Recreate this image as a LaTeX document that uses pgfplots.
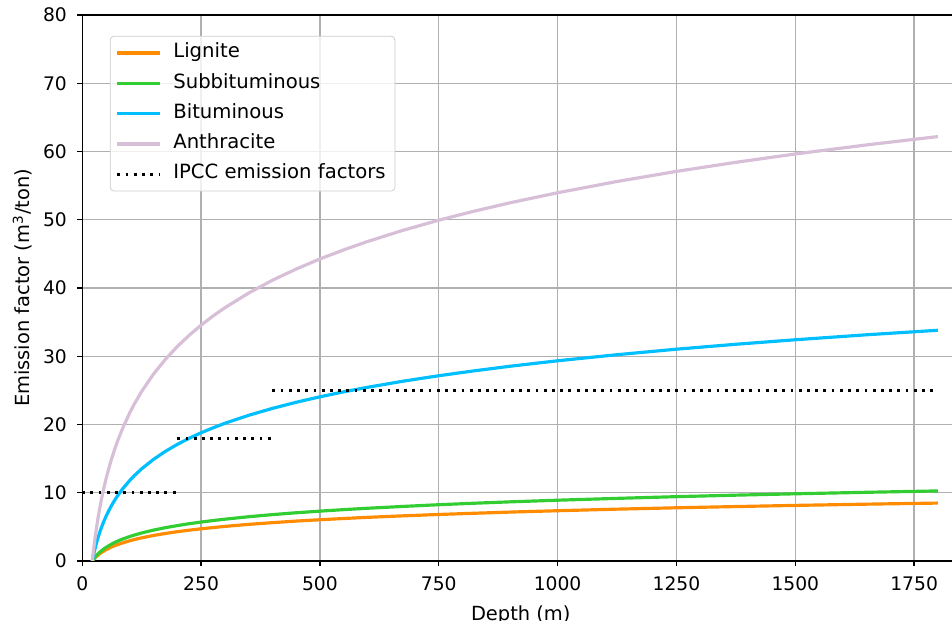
\documentclass[border=0pt]{standalone}
\usepackage{fontspec}
\setmainfont{DejaVu Sans}
\usepackage{pgfplots}
\pgfplotsset{compat=1.18}
\usepackage{pgfplotstable}

\definecolor{lignite}{HTML}{FF8C00}
\definecolor{subbit}{HTML}{32CD32}
\definecolor{bitum}{HTML}{00BFFF}
\definecolor{anthra}{HTML}{D8BFD8}
\definecolor{gridgray}{HTML}{B0B0B0}
\definecolor{legendedge}{HTML}{CCCCCC}

% Methane emission factor (m^3/ton) against mining depth (m), per coal rank
\pgfplotstableread{
x     lig   sub    bit    ant
21    0.00  0.00   0.00   0.00
22    0.07  0.09   0.28   0.52
23    0.16  0.19   0.62   1.14
25    0.31  0.38   1.25   2.31
27    0.46  0.56   1.84   3.39
30    0.66  0.80   2.64   4.86
32    0.79  0.95   3.13   5.76
35    0.96  1.16   3.82   7.02
40    1.21  1.47   4.83   8.89
45    1.44  1.74   5.73  10.54
50    1.64  1.98   6.53  12.01
55    1.82  2.20   7.25  13.35
60    1.99  2.40   7.92  14.56
67    2.20  2.66   8.76  16.11
75    2.41  2.92   9.62  17.69
85    2.65  3.21  10.57  19.44
100   2.96  3.58  11.80  21.72
110   3.14  3.80  12.53  23.05
125   3.39  4.10  13.50  24.84
150   3.74  4.52  14.89  27.39
175   4.03  4.88  16.06  29.55
200   4.29  5.18  17.08  31.42
225   4.51  5.46  17.98  33.07
250   4.71  5.70  18.78  34.55
275   4.89  5.92  19.50  35.88
300   5.06  6.12  20.17  37.10
350   5.36  6.48  21.34  39.25
400   5.61  6.79  22.35  41.13
450   5.84  7.06  23.25  42.77
500   6.04  7.30  24.05  44.25
550   6.22  7.52  24.78  45.58
600   6.39  7.72  25.44  46.80
675   6.61  7.99  26.34  48.45
750   6.81  8.24  27.14  49.93
825   6.99  8.46  27.86  51.26
900   7.16  8.66  28.53  52.48
1000  7.36  8.90  29.33  53.95
1125  7.59  9.17  30.22  55.60
1250  7.79  9.42  31.03  57.08
1375  7.97  9.64  31.75  58.41
1500  8.14  9.84  32.41  59.63
1650  8.32 10.06  33.14  60.96
1800  8.48 10.26  33.80  62.18
}\coaldata

\begin{document}
\begin{tikzpicture}
\begin{axis}[
  scale only axis,
  width=469.2pt, height=292.1pt,
  xmin=0, xmax=1845, ymin=0, ymax=80,
  xtick={0,250,...,1750}, ytick={0,10,...,80},
  grid=major,
  major grid style={color=gridgray, line width=0.7pt},
  axis line style={line width=0.7pt},
  tick align=outside, tick pos=left,
  major tick length=2.7pt,
  tick style={black, line width=0.7pt},
  /pgf/number format/assume math mode=true,
  /pgf/number format/1000 sep={},
  xticklabel style={yshift=-2pt},
  yticklabel style={xshift=-2pt},
  xlabel={Depth (m)},
  ylabel={Emission factor (m\textsuperscript{3}/ton)},
  label style={font=\fontsize{10.4}{12.5}\selectfont},
  xlabel style={at={(axis description cs:0.5,-0.0705)}, anchor=north},
  ylabel style={at={(axis description cs:-0.0494,0.5)}, anchor=south},
  legend cell align=left,
  legend style={
    at={(axis description cs:0.0315,0.9617)}, anchor=north west,
    draw=legendedge, rounded corners=2pt, fill=white, fill opacity=0.8,
    text opacity=1, row sep=2.2pt, column sep=4.3pt,
    font=\fontsize{10.5}{12.6}\selectfont,
    nodes={text height=0.75em, text depth=0.25em},
  },
  legend image code/.code={
    \draw[#1] (0cm,0cm) -- (0.8cm,0cm);
  },
]
\addplot[lignite, line width=1.7pt] table[x=x, y=lig] {\coaldata};
\addlegendentry{Lignite}
\addplot[subbit, line width=1.7pt] table[x=x, y=sub] {\coaldata};
\addlegendentry{Subbituminous}
\addplot[bitum, line width=1.7pt] table[x=x, y=bit] {\coaldata};
\addlegendentry{Bituminous}
\addplot[anthra, line width=1.7pt] table[x=x, y=ant] {\coaldata};
\addlegendentry{Anthracite}

% IPCC default emission factors by depth band
\addplot[black, line width=1.5pt, dash pattern=on 1.5pt off 2.9pt]
  coordinates {(0,10) (200,10)};
\addlegendentry{IPCC emission factors}
\addplot[black, line width=1.5pt, dash pattern=on 1.5pt off 2.9pt, forget plot]
  coordinates {(200,18) (400,18)};
\addplot[black, line width=1.5pt, dash pattern=on 1.5pt off 2.9pt, forget plot]
  coordinates {(400,25) (1800,25)};

\coordinate (O) at (rel axis cs:0,0);
\end{axis}
\pgfresetboundingbox
\path[use as bounding box] ([shift={(-44pt,-31.6pt)}]O) rectangle ([shift={(465.3pt,300.1pt)}]O);
\end{tikzpicture}
\end{document}
